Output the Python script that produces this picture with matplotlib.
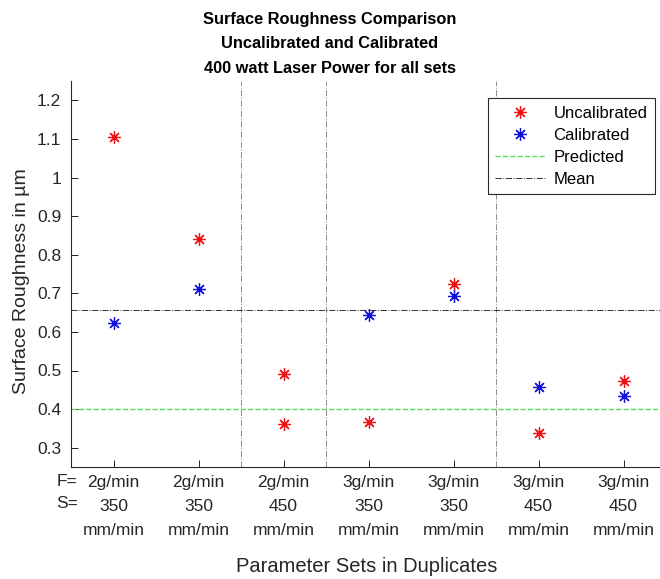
import matplotlib.pyplot as plt

plt.rcParams['font.family'] = ['Liberation Sans', 'DejaVu Sans']

# parameter sets (feed rate / scan speed), measured in duplicates
feed_rates = ['2g/min', '2g/min', '2g/min', '3g/min', '3g/min', '3g/min', '3g/min']
scan_speeds = ['350', '350', '450', '350', '350', '450', '450']

uncal_x = [1, 2, 3, 3, 4, 5, 6, 7]
uncal_y = [1.105, 0.84, 0.492, 0.362, 0.366, 0.725, 0.337, 0.474]
cal_x = [1, 2, 4, 5, 6, 7]
cal_y = [0.624, 0.711, 0.643, 0.692, 0.458, 0.435]

predicted = 0.40
mean_ra = 0.658
group_breaks = [2.5, 3.5, 5.5]


def main():
    fig = plt.figure(figsize=(6.6, 5.79), dpi=100)
    ax = fig.add_axes([71 / 660, 112 / 579, 595 / 660, 386 / 579])

    for xb in group_breaks:
        ax.axvline(xb, color='0.55', linestyle='-.', linewidth=0.7, zorder=1)

    star = (8, 2, 0)
    ax.plot(uncal_x, uncal_y, linestyle='none', marker=star, markersize=9,
            markeredgewidth=0.9, color='#ee1111', label='Uncalibrated', zorder=3)
    ax.plot(cal_x, cal_y, linestyle='none', marker=star, markersize=9,
            markeredgewidth=0.9, color='#1111dd', label='Calibrated', zorder=3)
    ax.axhline(predicted, color='#55dd55', linestyle='--', linewidth=1.0,
               label='Predicted', zorder=2)
    ax.axhline(mean_ra, color='0.2', linestyle='-.', linewidth=0.7,
               label='Mean', zorder=2)

    ax.set_xlim(0.5, 7.5)
    ax.set_ylim(0.25, 1.25)
    ax.set_yticks([0.3, 0.4, 0.5, 0.6, 0.7, 0.8, 0.9, 1.0, 1.1, 1.2])
    ax.set_yticklabels(['0.3', '0.4', '0.5', '0.6', '0.7', '0.8', '0.9', '1', '1.1', '1.2'])
    ax.set_xticks(range(1, 8))
    ax.set_xticklabels([f'{f}\n{s}\nmm/min' for f, s in zip(feed_rates, scan_speeds)],
                       linespacing=1.75)
    ax.tick_params(axis='y', direction='in', length=5, width=0.7,
                   labelsize=12.5, colors='#262626', pad=7)
    ax.tick_params(axis='x', direction='in', length=5, width=0.7,
                   labelsize=12.5, colors='#262626', pad=6)

    for side in ['top', 'right']:
        ax.spines[side].set_visible(False)
    for side in ['left', 'bottom']:
        ax.spines[side].set_color('#262626')
        ax.spines[side].set_linewidth(0.8)

    fig.text(67 / 660, 1 - 481 / 579, 'F=', ha='center', va='center',
             fontsize=12.5, color='#262626')
    fig.text(67 / 660, 1 - 503 / 579, 'S=', ha='center', va='center',
             fontsize=12.5, color='#262626')

    fig.text(22 / 660, 1 - 281 / 579, 'Surface Roughness in µm', rotation=90,
             ha='center', va='center', fontsize=14, color='#262626')
    fig.text(367 / 660, 1 - 567 / 579, 'Parameter Sets in Duplicates',
             ha='center', va='center', fontsize=14.5, color='#262626')
    fig.text(330 / 660, 1 - 44 / 579,
             'Surface Roughness Comparison\nUncalibrated and Calibrated\n'
             '400 watt Laser Power for all sets',
             ha='center', va='center', fontsize=11.8, fontweight='bold',
             linespacing=1.8)

    leg = ax.legend(loc='upper right', bbox_to_anchor=(655 / 660, 1 - 98 / 579),
                    bbox_transform=fig.transFigure, borderaxespad=0,
                    fontsize=12, fancybox=False, framealpha=1,
                    edgecolor='#262626', handlelength=3.0, borderpad=0.45,
                    labelspacing=0.42, handletextpad=0.5)
    leg.get_frame().set_linewidth(0.8)

    fig.savefig('out.png', dpi=100)


if __name__ == '__main__':
    main()
